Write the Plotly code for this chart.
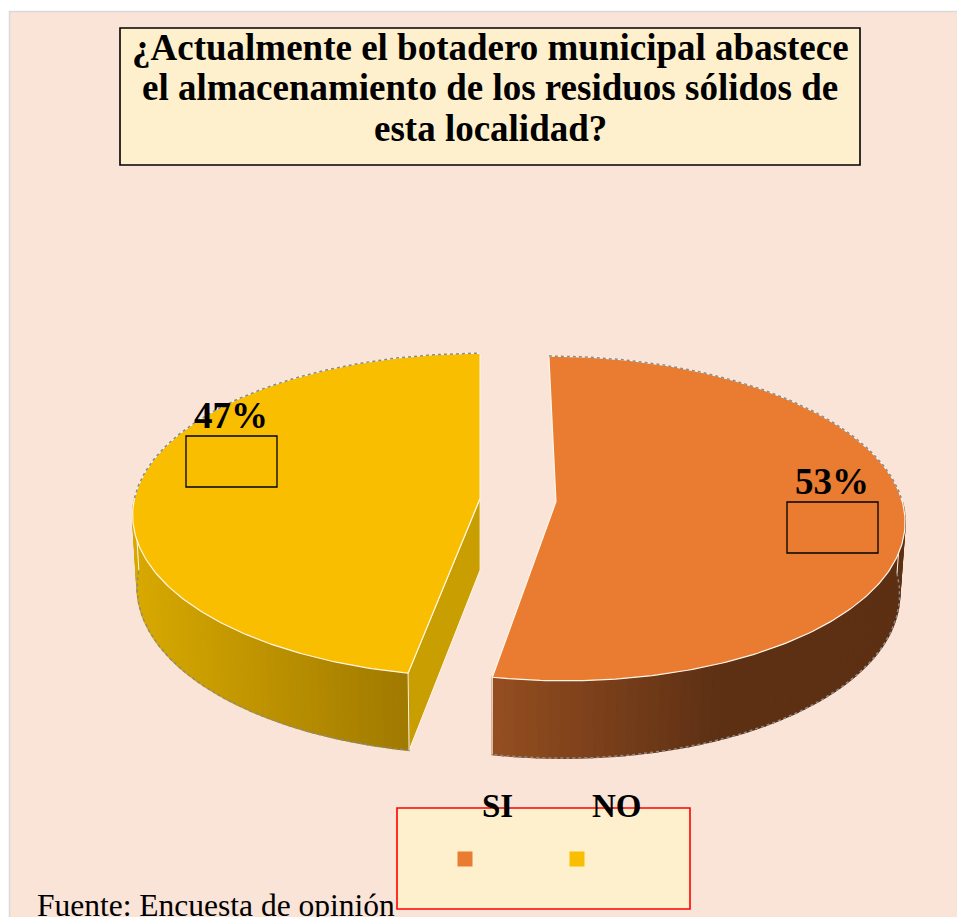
import numpy as np
import plotly.graph_objects as go

# ---------------- data ----------------
categories = ["SI", "NO"]
values = [53, 47]
pct_labels = ["53%", "47%"]
title_lines = [
    "¿Actualmente el botadero municipal abastece",
    "el almacenamiento de los residuos sólidos de",
    "esta localidad?",
]
source_note = "Fuente: Encuesta de opinión"

# ---------------- style / layout ----------------
W, H = 957, 917
FONT = "Liberation Serif"
BG = "#F9E4D7"
CREAM = "#FFF0CD"
top_colors = {"SI": "#E97C31", "NO": "#F9BE00"}
wall_colors = {"SI": ("#954E20", "#5D3014"), "NO": ("#D8A900", "#A07900")}
wall_span = {"SI": 0.55, "NO": 1.0}
radial_colors = {"SI": "#6A3817", "NO": "#C99E00"}

# 3D pie projection parameters (pixel-like data units)
CX, CY = 518, 500
S = 346            # radius scale
ELEV = np.radians(27.6)
DIST = 8.6         # camera distance (in radii)
UCAM = -0.11       # horizontal camera position (in radii)
THICK = 0.237      # pie thickness (in radii)
EXPLODE = 0.11
label_pos = {"SI": (832, 481), "NO": (231, 415)}
legend_text_pos = {"SI": (497, 806), "NO": (617, 806)}
legend_key_pos = {"SI": (465, 859), "NO": (577, 859)}


def hex2rgb(h):
    h = h.lstrip("#")
    return np.array([int(h[i:i + 2], 16) for i in (0, 2, 4)], float)


def mix(c1, c2, f):
    c = hex2rgb(c1) * (1 - f) + hex2rgb(c2) * f
    return "rgb(%d,%d,%d)" % tuple(np.round(c).astype(int))


def proj(u, v, z):
    depth = DIST + v * np.cos(ELEV) - z * np.sin(ELEV)
    k = DIST / depth
    yup = v * np.sin(ELEV) + z * np.cos(ELEV)
    return CX + S * (UCAM + (u - UCAM) * k), CY - S * yup * k


def rim(t, u0, v0, z=0.0):
    r = np.radians(t)
    return proj(u0 + np.sin(r), v0 + np.cos(r), z)


fig = go.Figure()

total = float(sum(values))
start = 0.0
slices = []
for cat, v in zip(categories, values):
    sweep = 360.0 * v / total
    t0, t1 = start, start + sweep
    start = t1
    br = np.radians((t0 + t1) / 2)
    slices.append((cat, t0, t1, EXPLODE * np.sin(br), EXPLODE * np.cos(br)))

LIGHT = "#FFF6EA"
for cat, t0, t1, u0, v0 in slices:
    ax, ay = proj(u0, v0, 0)
    bx, by = proj(u0, v0, -THICK)
    # radial faces that face the viewer
    for te, vis in ((t0, np.sin(np.radians(t0)) < -1e-6), (t1, np.sin(np.radians(t1)) > 1e-6)):
        if vis:
            ex, ey = rim(te, u0, v0, 0)
            fx, fy = rim(te, u0, v0, -THICK)
            fig.add_trace(go.Scatter(
                x=[ax, ex, fx, bx, ax], y=[ay, ey, fy, by, ay],
                mode="lines", fill="toself", fillcolor=radial_colors[cat],
                line=dict(color=LIGHT, width=1), hoverinfo="skip"))
    # front wall (gradient strips)
    lo, hi = max(t0, 90.0), min(t1, 270.0)
    if hi > lo:
        ts = np.linspace(lo, hi, 61)
        xs_all = [rim(t, u0, v0)[0] for t in ts]
        xmin, xmax = min(xs_all), max(xs_all)
        pt_top = [rim(t, u0, v0, 0) for t in ts]
        pt_bot = [rim(t, u0, v0, -THICK) for t in ts[::-1]]
        poly = pt_top + pt_bot + [pt_top[0]]
        fig.add_trace(go.Scatter(
            x=[q[0] for q in poly], y=[q[1] for q in poly], mode="lines", fill="toself",
            fillcolor=mix(*wall_colors[cat], 0.5), line=dict(width=0), hoverinfo="skip"))
        for i in range(len(ts) - 1):
            sub = np.linspace(ts[i], ts[i + 1], 3)
            a = [rim(t, u0, v0, 0) for t in sub]
            b = [rim(t, u0, v0, -THICK) for t in sub[::-1]]
            pp = a + b + [a[0]]
            xm = np.mean([q[0] for q in a])
            f = min(1.0, max(0.0, (xm - xmin) / (wall_span[cat] * (xmax - xmin))))
            col = mix(wall_colors[cat][0], wall_colors[cat][1], f)
            fig.add_trace(go.Scatter(
                x=[q[0] for q in pp], y=[q[1] for q in pp], mode="lines", fill="toself",
                fillcolor=col, line=dict(color=col, width=1.4), hoverinfo="skip"))
        pb = [rim(t, u0, v0, -THICK) for t in np.linspace(lo, hi, 100)]
        fig.add_trace(go.Scatter(
            x=[q[0] for q in pb], y=[q[1] for q in pb], mode="lines",
            line=dict(color="#8A8A8A", width=1.5, dash="dot"), hoverinfo="skip"))
        for te in (lo, hi):
            ex, ey = rim(te, u0, v0, 0)
            fx, fy = rim(te, u0, v0, -THICK)
            fig.add_trace(go.Scatter(
                x=[ex, fx], y=[ey, fy], mode="lines",
                line=dict(color=LIGHT, width=1), hoverinfo="skip"))
    # top face
    ts = np.linspace(t0, t1, 240)
    p = [rim(t, u0, v0, 0) for t in ts]
    xs = [ax] + [q[0] for q in p] + [ax]
    ys = [ay] + [q[1] for q in p] + [ay]
    fig.add_trace(go.Scatter(
        x=xs, y=ys, mode="lines", fill="toself", fillcolor=top_colors[cat],
        line=dict(color=LIGHT, width=1.2), hoverinfo="skip"))
    tb = [t for t in ts if np.cos(np.radians(t)) >= 0]
    if tb:
        segs = [rim(t, u0, v0, 0) for t in tb]
        fig.add_trace(go.Scatter(
            x=[q[0] for q in segs], y=[q[1] for q in segs], mode="lines",
            line=dict(color="#8A8A8A", width=1.5, dash="dot"), hoverinfo="skip"))

# legend keys
for cat in categories:
    kx, ky = legend_key_pos[cat]
    fig.add_trace(go.Scatter(
        x=[kx], y=[ky], mode="markers", name=cat,
        marker=dict(symbol="square", size=15, color=top_colors[cat]),
        hoverinfo="skip"))

shapes = [
    dict(type="rect", xref="x", yref="y", x0=9.5, y0=11.5, x1=1200, y1=1200,
         fillcolor=BG, line=dict(width=0), layer="below"),
    dict(type="path", xref="x", yref="y", path="M 9.5,1200 L 9.5,11.5 L 1200,11.5",
         line=dict(color="#D9D9D9", width=1.5), layer="below"),
    dict(type="rect", xref="x", yref="y", x0=120, y0=28, x1=860, y1=165,
         fillcolor=CREAM, line=dict(color="black", width=1.6), layer="below"),
    dict(type="rect", xref="x", yref="y", x0=397, y0=808, x1=690, y1=909,
         fillcolor=CREAM, line=dict(color="#FF0000", width=1.6), layer="below"),
]
annotations = []
for i, line in enumerate(title_lines):
    annotations.append(dict(
        x=490, y=[47, 87, 128][i], xref="x", yref="y", text="<b>%s</b>" % line,
        showarrow=False, font=dict(family=FONT, size=37, color="black"),
        xanchor="center", yanchor="middle"))
for cat, lab in zip(categories, pct_labels):
    lx, ly = label_pos[cat]
    annotations.append(dict(
        x=lx, y=ly, xref="x", yref="y", text="<b>%s</b>" % lab, showarrow=False,
        font=dict(family=FONT, size=37, color="black"), xanchor="center", yanchor="middle"))
    shapes.append(dict(type="rect", xref="x", yref="y", x0=lx - 45, x1=lx + 46,
                       y0=ly + 21, y1=ly + 72, line=dict(color="black", width=1.3),
                       fillcolor="rgba(0,0,0,0)", layer="above"))
for cat in categories:
    tx, ty = legend_text_pos[cat]
    annotations.append(dict(
        x=tx, y=ty, xref="x", yref="y", text="<b>%s</b>" % cat, showarrow=False,
        font=dict(family=FONT, size=33, color="black"), xanchor="center", yanchor="middle"))
annotations.append(dict(
    x=35, y=905, xref="x", yref="y", text=source_note, showarrow=False,
    font=dict(family=FONT, size=31.5, color="black"), xanchor="left", yanchor="middle"))

fig.update_layout(
    width=W, height=H, margin=dict(l=0, r=0, t=0, b=0),
    paper_bgcolor="white", plot_bgcolor="rgba(0,0,0,0)", showlegend=False,
    xaxis=dict(range=[0, W], visible=False, fixedrange=True),
    yaxis=dict(range=[H, 0], visible=False, fixedrange=True),
    shapes=shapes, annotations=annotations,
)
fig.write_html(
    "out.html",
    config={"displayModeBar": False},
    post_script="document.body.style.margin='0';document.body.style.padding='0';"
                "document.body.style.overflow='hidden';",
)
